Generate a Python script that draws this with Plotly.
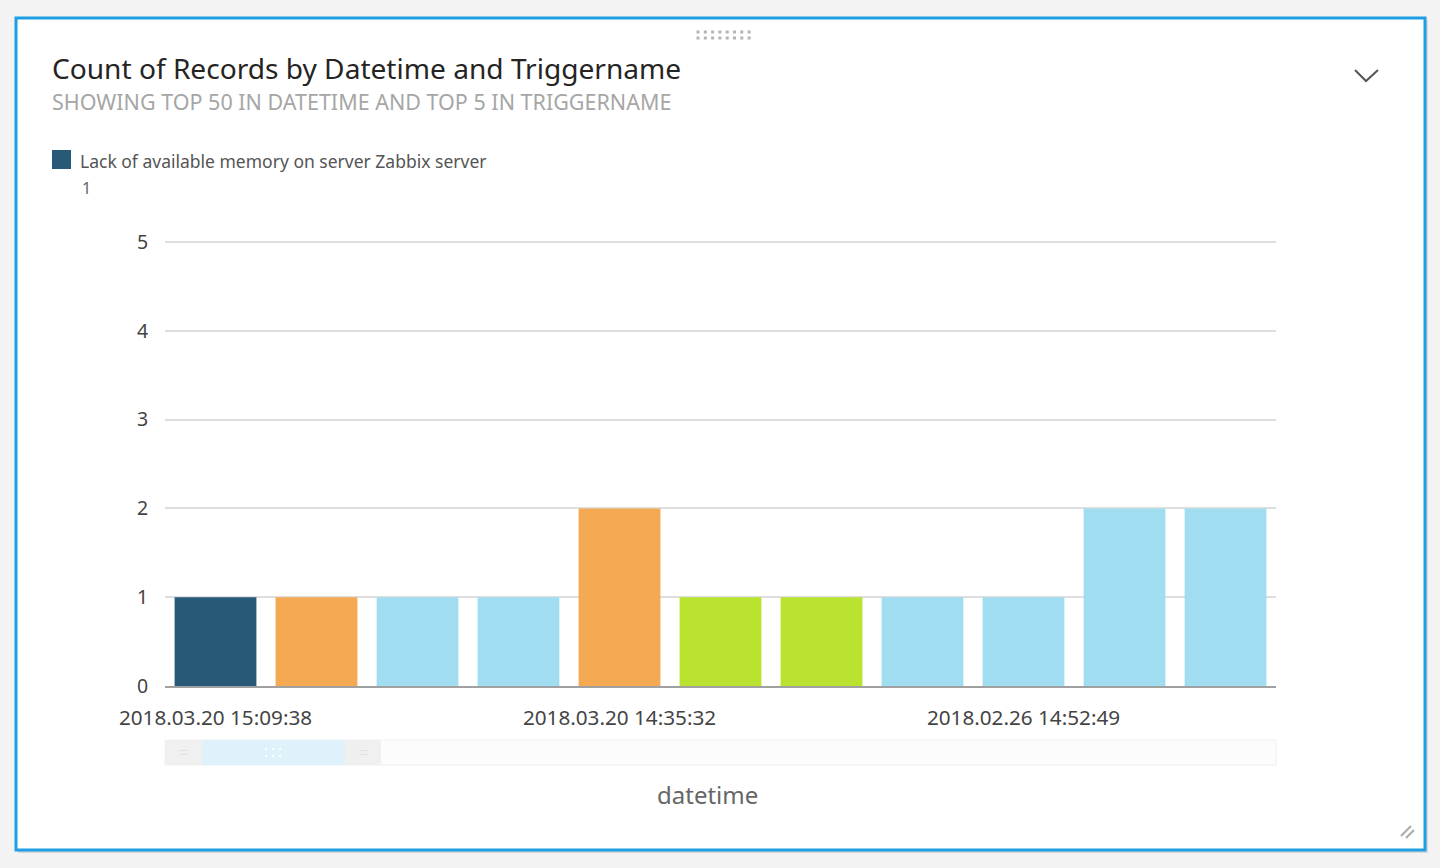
import plotly.graph_objects as go

W, H = 1440, 868

# ---- data ----
datetimes = [
    "2018.03.20 15:09:38", "2018.03.20 15:04:38", "2018.03.20 14:59:35",
    "2018.03.20 14:44:32", "2018.03.20 14:35:32", "2018.03.20 14:30:32",
    "2018.03.12 10:21:15", "2018.03.05 09:47:02", "2018.02.26 14:52:49",
    "2018.02.26 14:47:49", "2018.02.26 14:42:49",
]
counts = [1, 1, 1, 1, 2, 1, 1, 1, 1, 2, 2]
tick_labels = ["2018.03.20 15:09:38", "2018.03.20 14:35:32", "2018.02.26 14:52:49"]
y_ticks = [0, 1, 2, 3, 4, 5]
legend_name = "Lack of available memory on server Zabbix server"
legend_value = "1"

# ---- styles ----
DARK, ORANGE, LIGHT, LIME = "#285a77", "#f5a952", "#a1ddf0", "#b9e32e"
bar_colors = [DARK, ORANGE, LIGHT, LIGHT, ORANGE, LIME, LIME, LIGHT, LIGHT, LIGHT, LIGHT]
FONT = "Noto Sans"


def px(x):
    return x / W


def py(y):
    return 1 - y / H


fig = go.Figure()
fig.add_trace(go.Bar(
    x=datetimes, y=counts, marker=dict(color=bar_colors, line=dict(width=0)),
    name=legend_name, showlegend=False, hoverinfo="x+y",
))

shapes = []
# panel shadow + panel
shapes.append(dict(type="rect", xref="paper", yref="paper", x0=px(18), x1=px(1428),
                   y0=py(853), y1=py(20), fillcolor="#d8d8d8", line=dict(width=0), layer="below"))
shapes.append(dict(type="rect", xref="paper", yref="paper", x0=px(16), x1=px(1425),
                   y0=py(850), y1=py(18), fillcolor="white", line=dict(color="#1f9fe3", width=3), layer="below"))
# drag handle dots
for r in range(2):
    for c in range(8):
        cx, cy = 698 + 7.3 * c, 32 + 6 * r
        shapes.append(dict(type="rect", xref="paper", yref="paper", x0=px(cx - 1.5), x1=px(cx + 1.5),
                           y0=py(cy + 1.5), y1=py(cy - 1.5), fillcolor="#b4b4b4", line=dict(width=0)))
# chevron
shapes.append(dict(type="path", xref="paper", yref="paper",
                   path=f"M {px(1355)} {py(70)} L {px(1366)} {py(81)} L {px(1378)} {py(70)}",
                   line=dict(color="#555555", width=2)))
# resize grip
shapes.append(dict(type="line", xref="paper", yref="paper", x0=px(1401), y0=py(836), x1=px(1411), y1=py(826),
                   line=dict(color="#aaaaaa", width=2)))
shapes.append(dict(type="line", xref="paper", yref="paper", x0=px(1406), y0=py(838), x1=px(1414), y1=py(830),
                   line=dict(color="#aaaaaa", width=2)))
# legend swatch
shapes.append(dict(type="rect", xref="paper", yref="paper", x0=px(52), x1=px(71), y0=py(169), y1=py(150),
                   fillcolor=DARK, line=dict(width=0)))
# scrollbar
shapes.append(dict(type="rect", xref="paper", yref="paper", x0=px(165), x1=px(1276), y0=py(765), y1=py(740),
                   fillcolor="#fcfcfc", line=dict(color="#f0f0f0", width=1)))
shapes.append(dict(type="rect", xref="paper", yref="paper", x0=px(165), x1=px(202), y0=py(765), y1=py(740),
                   fillcolor="#f0f0f0", line=dict(width=0)))
shapes.append(dict(type="rect", xref="paper", yref="paper", x0=px(202), x1=px(345), y0=py(765), y1=py(740),
                   fillcolor="#dff2fc", line=dict(width=0)))
shapes.append(dict(type="rect", xref="paper", yref="paper", x0=px(345), x1=px(381), y0=py(765), y1=py(740),
                   fillcolor="#f0f0f0", line=dict(width=0)))
# scrollbar grip marks
for gx in (183.5, 363):
    for gy in (750.5, 754.5):
        shapes.append(dict(type="line", xref="paper", yref="paper", x0=px(gx - 4), x1=px(gx + 4),
                           y0=py(gy), y1=py(gy), line=dict(color="#e0e0e0", width=1)))
for r in range(2):
    for c in range(3):
        cx, cy = 266 + 7 * c, 749 + 7 * r
        shapes.append(dict(type="rect", xref="paper", yref="paper", x0=px(cx - 1), x1=px(cx + 1),
                           y0=py(cy + 1), y1=py(cy - 1), fillcolor="white", line=dict(width=0)))

annotations = [
    dict(text="Count of Records by Datetime and Triggername", x=px(50), y=py(68), xref="paper", yref="paper",
         xanchor="left", yanchor="middle", showarrow=False, font=dict(family=FONT, size=28.1, color="#252423")),
    dict(text="SHOWING TOP 50 IN DATETIME AND TOP 5 IN TRIGGERNAME", x=px(50), y=py(102), xref="paper",
         yref="paper", xanchor="left", yanchor="middle", showarrow=False,
         font=dict(family=FONT, size=21.5, color="#a6a6a6")),
    dict(text=legend_name, x=px(78), y=py(161), xref="paper", yref="paper", xanchor="left", yanchor="middle",
         showarrow=False, font=dict(family=FONT, size=17.5, color="#555555")),
    dict(text=legend_value, x=px(80), y=py(188), xref="paper", yref="paper", xanchor="left", yanchor="middle",
         showarrow=False, font=dict(family=FONT, size=16, color="#666666")),
    dict(text="datetime", x=px(707), y=py(794), xref="paper", yref="paper", xanchor="center", yanchor="middle",
         showarrow=False, font=dict(family=FONT, size=24, color="#666666")),
]

fig.update_layout(
    width=W, height=H, margin=dict(l=0, r=0, t=0, b=0, pad=0, autoexpand=False),
    paper_bgcolor="#f3f3f3", plot_bgcolor="rgba(0,0,0,0)",
    bargap=0.19, showlegend=False,
    shapes=shapes, annotations=annotations,
    font=dict(family=FONT, color="#555555"),
    xaxis=dict(domain=[px(165), px(1276)], tickmode="array", tickvals=tick_labels, ticktext=tick_labels,
               tickfont=dict(size=20.7, color="#444444"), ticks="outside", ticklen=12,
               tickcolor="rgba(0,0,0,0)", showgrid=False, showline=True, linecolor="#a0a0a0", linewidth=2,
               zeroline=False, fixedrange=True, automargin=False),
    yaxis=dict(domain=[py(686), py(240.2)], range=[0, 5.02], tickmode="array", tickvals=y_ticks,
               tickfont=dict(size=19.5, color="#444444"), ticks="outside", ticklen=12,
               tickcolor="rgba(0,0,0,0)", showgrid=True, gridcolor="#dedede", gridwidth=2,
               zeroline=False, showline=False, fixedrange=True, automargin=False),
)

fig.write_html("out.html", post_script="document.body.style.margin='0';document.body.style.overflow='hidden';",
               config={"displayModeBar": False})
